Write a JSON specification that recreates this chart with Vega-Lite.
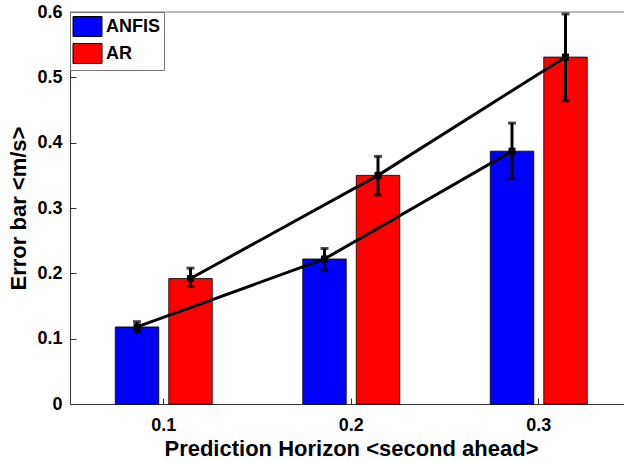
{
  "$schema": "https://vega.github.io/schema/vega-lite/v6.json",
  "width": 554,
  "height": 392,
  "autosize": {"type": "none"},
  "padding": {"left": 70, "top": 12, "right": 0, "bottom": 57},
  "background": "white",
  "config": {
    "view": {"stroke": null},
    "font": "Liberation Sans"
  },
  "data": {
    "values": [
      {"horizon": "0.1", "model": "ANFIS", "value": 0.118, "low": 0.111, "high": 0.126},
      {"horizon": "0.1", "model": "AR", "value": 0.192, "low": 0.180, "high": 0.208},
      {"horizon": "0.2", "model": "ANFIS", "value": 0.222, "low": 0.205, "high": 0.238},
      {"horizon": "0.2", "model": "AR", "value": 0.350, "low": 0.320, "high": 0.379},
      {"horizon": "0.3", "model": "ANFIS", "value": 0.387, "low": 0.345, "high": 0.430},
      {"horizon": "0.3", "model": "AR", "value": 0.531, "low": 0.464, "high": 0.597}
    ]
  },
  "layer": [
    {
      "data": {"values": [{}]},
      "mark": {"type": "rule", "color": "#777", "strokeWidth": 1},
      "encoding": {"y": {"datum": 0.6, "type": "quantitative"}}
    },
    {
      "mark": {"type": "bar", "stroke": "#000", "strokeWidth": 0.8},
      "encoding": {
        "x": {
          "field": "horizon",
          "type": "nominal",
          "scale": {"range": [0, 562.5], "paddingInner": 0, "paddingOuter": 0},
          "axis": {
            "orient": "bottom",
            "title": "Prediction Horizon <second ahead>",
            "titleFont": "Liberation Sans",
            "titleFontSize": 22,
            "titleFontWeight": "bold",
            "titleColor": "#000",
            "titleX": 281,
            "titleY": 51,
            "titleBaseline": "alphabetic",
            "titleAlign": "center",
            "titleAnchor": null,
            "labelFont": "Liberation Sans",
            "labelFontSize": 18,
            "labelFontWeight": "bold",
            "labelColor": "#000",
            "labelAngle": 0,
            "labelPadding": 18,
            "domainColor": "#333",
            "tickColor": "#333",
            "tickSize": -6,
            "grid": false
          }
        },
        "xOffset": {
          "field": "model",
          "type": "nominal",
          "scale": {"domain": ["ANFIS", "AR"], "paddingInner": 0.187, "paddingOuter": 0.846}
        },
        "y": {
          "field": "value",
          "type": "quantitative",
          "scale": {"domain": [0, 0.6], "nice": false, "zero": true},
          "axis": {
            "title": "Error bar <m/s>",
            "titleFont": "Liberation Sans",
            "titleFontSize": 22,
            "titleFontWeight": "bold",
            "titleColor": "#000",
            "titleAngle": -90,
            "titleX": -45,
            "titleY": 196,
            "titleBaseline": "alphabetic",
            "titleAlign": "center",
            "titleAnchor": null,
            "values": [0, 0.1, 0.2, 0.3, 0.4, 0.5, 0.6],
            "format": ".1~f",
            "labelFont": "Liberation Sans",
            "labelFontSize": 18,
            "labelFontWeight": "bold",
            "labelColor": "#000",
            "labelPadding": 14,
            "domainColor": "#333",
            "tickColor": "#333",
            "tickSize": -6,
            "grid": false
          }
        },
        "color": {
          "field": "model",
          "type": "nominal",
          "scale": {"domain": ["ANFIS", "AR"], "range": ["#0000FF", "#FF0000"]},
          "legend": {
            "title": null,
            "orient": "none",
            "legendX": 0,
            "legendY": 0,
            "padding": 4,
            "fillColor": "white",
            "strokeColor": "#777",
            "symbolType": "M-1.45,-1H1.45V1H-1.45Z",
            "symbolSize": 400,
            "symbolOffset": 3,
            "symbolStrokeColor": "#000",
            "symbolStrokeWidth": 1,
            "symbolOpacity": 1,
            "labelFont": "Liberation Sans",
            "labelFontSize": 18,
            "labelFontWeight": "bold",
            "labelColor": "#000",
            "labelOffset": 8,
            "rowPadding": 2
          }
        }
      }
    },
    {
      "mark": {"type": "line", "color": "#000", "strokeWidth": 3},
      "encoding": {
        "x": {"field": "horizon", "type": "nominal"},
        "xOffset": {"field": "model", "type": "nominal"},
        "y": {"field": "value", "type": "quantitative"},
        "detail": {"field": "model", "type": "nominal"}
      }
    },
    {
      "mark": {"type": "rule", "color": "#000", "strokeWidth": 3},
      "encoding": {
        "x": {"field": "horizon", "type": "nominal"},
        "xOffset": {"field": "model", "type": "nominal"},
        "y": {"field": "low", "type": "quantitative"},
        "y2": {"field": "high"}
      }
    },
    {
      "mark": {"type": "tick", "color": "#000", "size": 8, "thickness": 3, "orient": "horizontal"},
      "encoding": {
        "x": {"field": "horizon", "type": "nominal"},
        "xOffset": {"field": "model", "type": "nominal"},
        "y": {"field": "low", "type": "quantitative"}
      }
    },
    {
      "mark": {"type": "tick", "color": "#000", "size": 8, "thickness": 3, "orient": "horizontal"},
      "encoding": {
        "x": {"field": "horizon", "type": "nominal"},
        "xOffset": {"field": "model", "type": "nominal"},
        "y": {"field": "high", "type": "quantitative"}
      }
    },
    {
      "mark": {"type": "square", "color": "#000", "size": 49, "opacity": 1, "filled": true},
      "encoding": {
        "x": {"field": "horizon", "type": "nominal"},
        "xOffset": {"field": "model", "type": "nominal"},
        "y": {"field": "value", "type": "quantitative"}
      }
    }
  ]
}
